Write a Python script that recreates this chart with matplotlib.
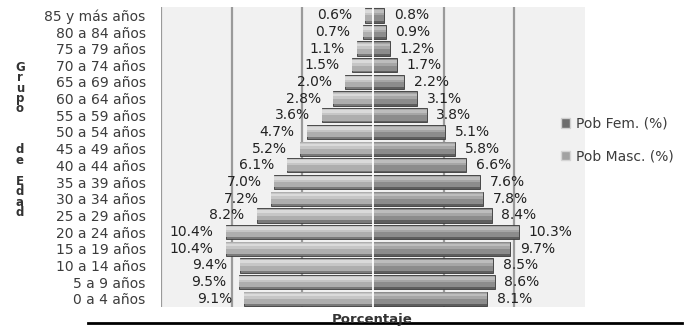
import matplotlib
matplotlib.use("Agg")
import matplotlib.pyplot as plt
import numpy as np
from matplotlib.patches import Patch
from matplotlib.lines import Line2D

# Age groups, from oldest (top) to youngest (bottom)
grupos = ["85 y más años", "80 a 84 años", "75 a 79 años", "70 a 74 años",
          "65 a 69 años", "60 a 64 años", "55 a 59 años", "50 a 54 años",
          "45 a 49 años", "40 a 44 años", "35 a 39 años", "30 a 34 años",
          "25 a 29 años", "20 a 24 años", "15 a 19 años", "10 a 14 años",
          "5 a 9 años", "0 a 4 años"]
pob_masc = [0.6, 0.7, 1.1, 1.5, 2.0, 2.8, 3.6, 4.7, 5.2, 6.1,
            7.0, 7.2, 8.2, 10.4, 10.4, 9.4, 9.5, 9.1]
pob_fem = [0.8, 0.9, 1.2, 1.7, 2.2, 3.1, 3.8, 5.1, 5.8, 6.6,
           7.6, 7.8, 8.4, 10.3, 9.7, 8.5, 8.6, 8.1]
serie_fem = "Pob Fem. (%)"
serie_masc = "Pob Masc. (%)"

W, H = 691, 328
fig = plt.figure(figsize=(W / 100, H / 100), dpi=100)
fig.patch.set_facecolor("white")
ax = fig.add_axes([161 / W, 21 / H, 424 / W, 300 / H])
ax.set_facecolor("#f1f1f1")

n = len(grupos)
y = np.arange(n)[::-1]
h = 0.86


def bevel_bars(values, sign, dark, mid, light, lighter):
    vals = sign * np.asarray(values)
    # shadow / outline
    ax.barh(y, vals, height=h, color=dark, edgecolor="#3a3a3a", linewidth=0.6, zorder=2)
    # body
    ax.barh(y + 0.04, vals, height=h - 0.16, color=mid, linewidth=0, zorder=3)
    # upper highlight
    ax.barh(y + 0.17, vals, height=0.36, color=light, linewidth=0, zorder=4)
    ax.barh(y + 0.22, vals, height=0.16, color=lighter, linewidth=0, zorder=5)


bevel_bars(pob_masc, -1, "#7a7a7a", "#aeaeae", "#c6c6c6", "#dadada")
bevel_bars(pob_fem, 1, "#5e5e5e", "#8c8c8c", "#a6a6a6", "#bdbdbd")

# gridlines and white centre line
for gx in (-15, -10, -5, 5, 10):
    ax.axvline(gx, color="#9a9a9a", lw=1.6, zorder=1)
ax.axvline(0, color="white", lw=1.3, zorder=6)

# value labels
for yi, v in zip(y, pob_masc):
    ax.annotate(f"{v:.1f}%", xy=(-v, yi), xytext=(-9, 0), textcoords="offset points",
                ha="right", va="center", fontsize=10, color="#222222", zorder=7)
for yi, v in zip(y, pob_fem):
    ax.annotate(f"{v:.1f}%", xy=(v, yi), xytext=(7, 0), textcoords="offset points",
                ha="left", va="center", fontsize=10, color="#222222", zorder=7)

ax.set_xlim(-15, 15)
ax.set_ylim(-0.5, n - 0.5)
ax.set_yticks(y)
ax.set_yticklabels(grupos, fontsize=10, color="#3c3c3c")
ax.tick_params(axis="y", length=0, pad=11)
ax.set_xticks([])
for s in ax.spines.values():
    s.set_visible(False)

# stacked axis title
for word, yc in (("G\nr\nu\np\no", 88), ("d\ne", 155), ("E\nd\na\nd", 197)):
    fig.text(20 / W, 1 - yc / H, word, ha="center", va="center", fontsize=8.5,
             fontweight="bold", color="#333333", linespacing=0.74)

fig.text(372 / W, (H - 323) / H, "Porcentaje", ha="center", va="baseline",
         fontsize=9.5, fontweight="bold", color="#333333")
fig.add_artist(Line2D([88 / W, 682 / W], [(H - 322.5) / H] * 2, color="black", lw=2))

handles = [Patch(facecolor="#6c6c6c", edgecolor="#cfcfcf", label=serie_fem),
           Patch(facecolor="#a2a2a2", edgecolor="#d5d5d5", label=serie_masc)]
fig.legend(handles=handles, loc="upper left", bbox_to_anchor=(548 / W, 1 - 104 / H),
           frameon=False, fontsize=10, handlelength=0.7, handleheight=0.7,
           handletextpad=0.4, labelspacing=1.35, labelcolor="#3c3c3c")

fig.savefig("out.png", dpi=100)
